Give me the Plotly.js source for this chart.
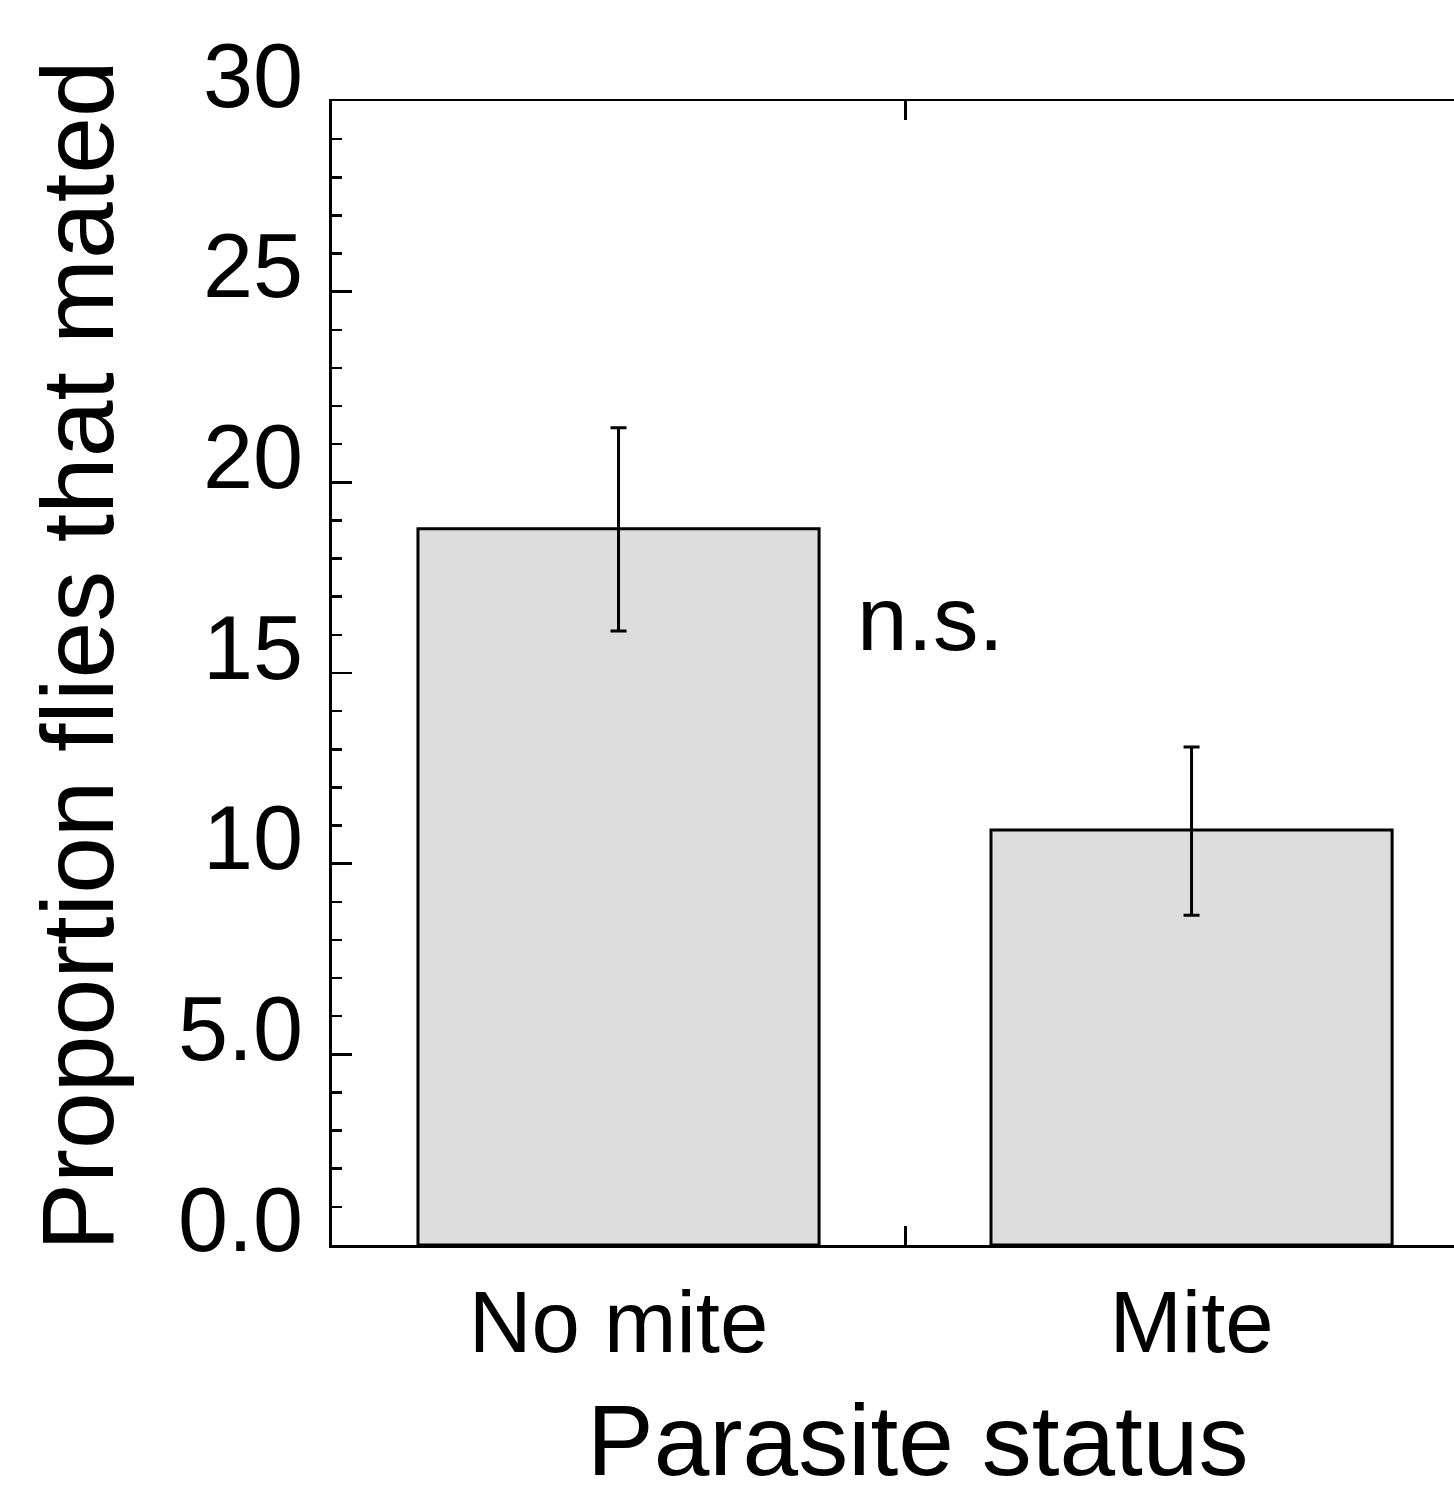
<!DOCTYPE html>
<html>
<head>
<meta charset="utf-8">
<script src="https://cdn.plot.ly/plotly-3.0.1.min.js"></script>
<style>html,body{margin:0;padding:0;background:#fff;overflow:hidden}</style>
</head>
<body>
<div id="chart" style="width:1454px;height:1503px"></div>
<script>
// Data
const categories = ["No mite", "Mite"];
const means = [18.78, 10.88];
const errPlus = [2.65, 2.18];
const errMinus = [2.68, 2.23];
const yTickVals = [0, 5, 10, 15, 20, 25, 30];
const yTickText = ["0.0", "5.0", "10", "15", "20", "25", "30"];
const xTitle = "Parasite status";
const yTitle = "Proportion flies that mated";
const sigLabel = "n.s.";

const FONT = "Liberation Sans, Arial, Helvetica, sans-serif";

const trace = {
  type: "bar",
  x: categories,
  y: means,
  width: 0.7,
  marker: { color: "#dcdddc", line: { color: "#000", width: 3 } },
  error_y: {
    type: "data",
    symmetric: false,
    array: errPlus,
    arrayminus: errMinus,
    color: "#000",
    thickness: 3,
    width: 8
  },
  hoverinfo: "skip"
};

const layout = {
  width: 1454,
  height: 1503,
  margin: { l: 332, r: 0, t: 101, b: 258, pad: 0 },
  paper_bgcolor: "#fff",
  plot_bgcolor: "#fff",
  showlegend: false,
  font: { family: FONT, color: "#000" },
  xaxis: {
    type: "category",
    range: [-0.5, 1.458],
    tickson: "boundaries",
    ticks: "inside",
    ticklen: 19,
    tickwidth: 3,
    tickcolor: "#000",
    showline: true,
    linecolor: "#000",
    linewidth: 2.5,
    mirror: "ticks",
    showgrid: false,
    zeroline: false,
    tickfont: { family: FONT, size: 87, color: "#000" },
    ticklabelstandoff: 0
  },
  yaxis: {
    range: [0, 30],
    tickmode: "array",
    tickvals: yTickVals,
    ticktext: yTickText,
    ticks: "inside",
    ticklen: 20,
    tickwidth: 2.5,
    tickcolor: "#000",
    minor: { dtick: 1, ticks: "inside", ticklen: 10, tickwidth: 2.5, tickcolor: "#000", showgrid: false },
    showline: true,
    linecolor: "#000",
    linewidth: 3,
    mirror: false,
    showgrid: false,
    zeroline: false,
    tickfont: { family: FONT, size: 90, color: "#000" },
    ticklabelstandoff: 8,
    ticklabelshift: -26
  },
  annotations: [
    {
      xref: "x", yref: "y",
      x: 0.545, y: 16.43,
      text: sigLabel,
      showarrow: false,
      xanchor: "center", yanchor: "middle",
      font: { family: FONT, size: 91, color: "#000" }
    },
    {
      xref: "paper", yref: "paper",
      x: 0.5214, y: -0.1705,
      text: xTitle,
      showarrow: false,
      xanchor: "center", yanchor: "middle",
      font: { family: FONT, size: 100, color: "#000" }
    },
    {
      xref: "paper", yref: "paper",
      x: -0.2264, y: 0.5157,
      text: yTitle,
      textangle: -90,
      showarrow: false,
      xanchor: "center", yanchor: "middle",
      font: { family: FONT, size: 102, color: "#000" }
    }
  ]
};

Plotly.newPlot("chart", [trace], layout, { staticPlot: true, displayModeBar: false });
</script>
</body>
</html>
